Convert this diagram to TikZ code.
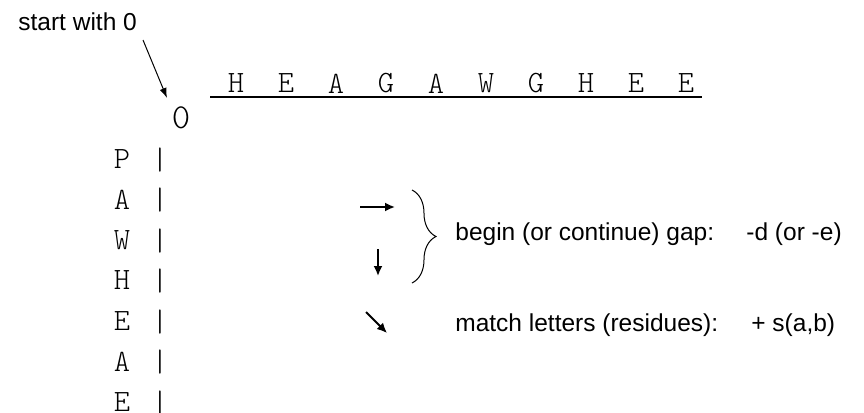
\documentclass[tikz,border=0pt]{standalone}
\usepackage{fontspec}
\setmainfont{Liberation Sans}
\usetikzlibrary{decorations.pathreplacing,arrows.meta}
\begin{document}
\begin{tikzpicture}[x=0.5pt,y=-0.5pt,
  lbl/.style={inner sep=0pt,anchor=base west,font=\fontsize{12.25}{14}\selectfont},
  seq/.style={inner sep=0pt,font=\ttfamily\fontseries{l}\fontsize{15.5}{17}\selectfont},
  zerolbl/.style={inner sep=0pt,font=\ttfamily\fontseries{l}\fontsize{17.5}{19}\selectfont},
  arr/.style={line width=0.9pt,-{Latex[length=5pt,width=4.5pt]}},
  thinarr/.style={line width=0.5pt,-{Latex[length=5pt,width=3.5pt]}}]
\useasboundingbox (0,0) rectangle (864,413);
% top sequence
\foreach \ch [count=\i from 0] in {H,E,A,G,A,W,G,H,E,E}
  \node[seq] (t\i) at (236+50*\i,83.5) {\ch};
\coordinate (ruleL) at (210,97);
\coordinate (ruleR) at (702,97);
\draw[line width=1pt] (ruleL) -- (ruleR);
% zero
\node[zerolbl] (zero) at (181,118) {0};
% left sequence
\foreach \ch [count=\i from 0] in {P,A,W,H,E,A,E} {
  \node[seq] (l\i) at (122,159+40.5*\i) {\ch};
  \node[seq] (b\i) at (160,160+40.5*\i) {|};
}
% start label
\node[lbl] (start) at (18,30) {start with 0};
\coordinate (sA) at (143,40);
\coordinate (sB) at (167,98);
\draw[thinarr] (sA) -- (sB);
% legend arrows
\coordinate (rA) at (360,207); \coordinate (rB) at (395,207);
\draw[arr] (rA) -- (rB);
\coordinate (dA) at (378,249); \coordinate (dB) at (378,276);
\draw[arr] (dA) -- (dB);
\coordinate (gA) at (366,312); \coordinate (gB) at (387,333);
\draw[arr] (gA) -- (gB);
% brace
\coordinate (brT) at (412,190); \coordinate (brB) at (412,283);
\draw[line width=0.5pt,decorate,decoration={brace,amplitude=12pt}] (brT) -- (brB);
% texts
\node[lbl] (gap) at (455,240) {begin (or continue) gap:};
\node[lbl] (gapv) at (746,240) {-d (or -e)};
\node[lbl] (match) at (455,331) {match letters (residues):};
\node[lbl] (matchv) at (751,331) {+ s(a,b)};
\end{tikzpicture}
\end{document}
